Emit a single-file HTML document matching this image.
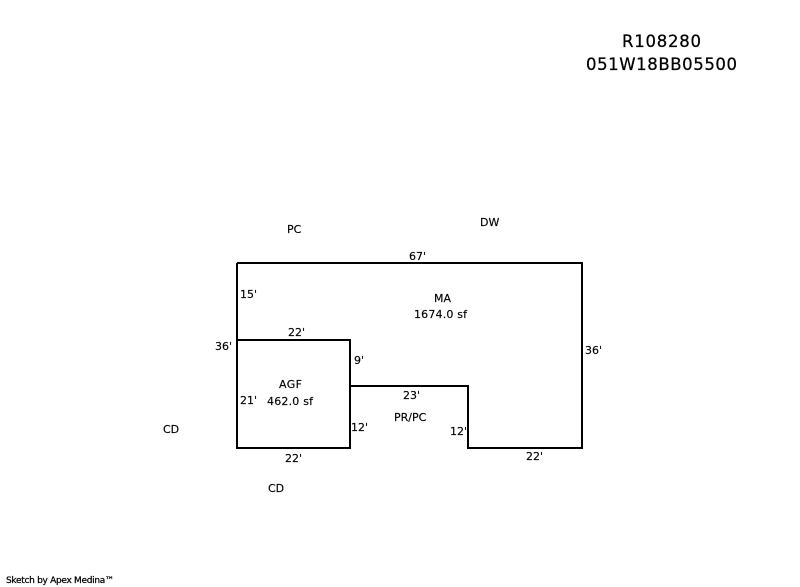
<!DOCTYPE html>
<html>
<head>
<meta charset="utf-8">
<style>
html,body{margin:0;padding:0;background:#fff;width:800px;height:587px;overflow:hidden}
svg{display:block}
text{font-family:"DejaVu Sans","Liberation Sans",sans-serif;font-size:11px;fill:#000;stroke:#000;stroke-width:.15px}
.t{font-size:16.5px;stroke-width:.25px}
.s{font-size:9px;stroke-width:.25px}
</style>
</head>
<body>
<svg width="800" height="587" viewBox="0 0 800 587" xmlns="http://www.w3.org/2000/svg">
<g fill="none" stroke="#000" stroke-width="2" shape-rendering="crispEdges">
<path d="M237 263H582V448H468V386H350"/>
<path d="M237 263V448H350V340H237"/>
</g>
<text class="t" x="622" y="47" textLength="79">R108280</text>
<text class="t" x="586" y="70" textLength="151">051W18BB05500</text>
<text x="287" y="233">PC</text>
<text x="480" y="226">DW</text>
<text x="409" y="260">67'</text>
<text x="240" y="298">15'</text>
<text x="434" y="302">MA</text>
<text x="414" y="318" textLength="53">1674.0 sf</text>
<text x="288" y="336">22'</text>
<text x="215" y="350">36'</text>
<text x="585" y="354">36'</text>
<text x="354" y="364">9'</text>
<text x="279" y="388" textLength="23">AGF</text>
<text x="403" y="399">23'</text>
<text x="240" y="404">21'</text>
<text x="267" y="405" textLength="46">462.0 sf</text>
<text x="394" y="421">PR/PC</text>
<text x="351" y="431">12'</text>
<text x="450" y="435">12'</text>
<text x="163" y="433">CD</text>
<text x="285" y="462">22'</text>
<text x="526" y="460">22'</text>
<text x="268" y="492">CD</text>
<text class="s" x="6" y="583" textLength="108">Sketch by Apex Medina™</text>
</svg>
</body>
</html>
